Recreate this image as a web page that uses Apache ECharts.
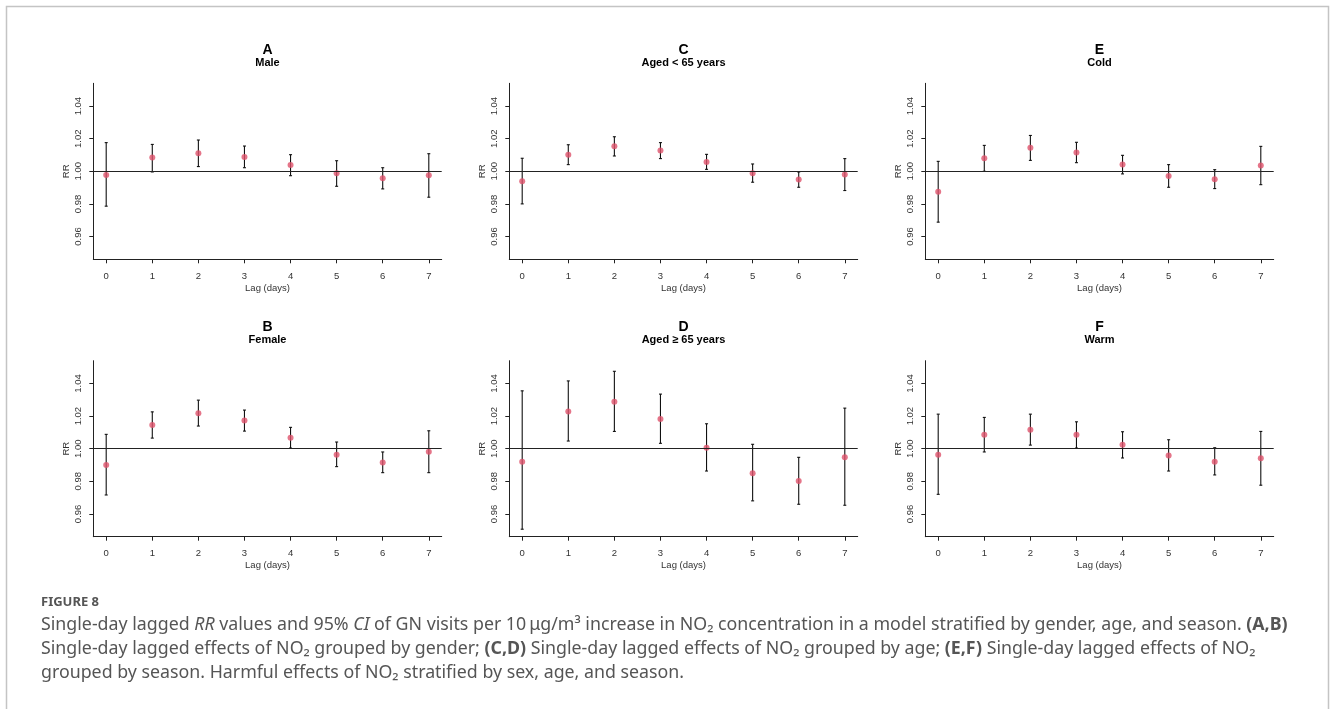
<!DOCTYPE html>
<html>
<head>
<meta charset="utf-8">
<script src="https://cdn.jsdelivr.net/npm/echarts@6/dist/echarts.min.js"></script>
<style>
  html, body { margin: 0; padding: 0; background: #fff; }
  #main { width: 1330px; height: 709px; }
</style>
</head>
<body>
<div id="main"></div>
<script>
// lag 刻度和 y 轴刻度
var lags = [0, 1, 2, 3, 4, 5, 6, 7];
var yTicks = [0.96, 0.98, 1.00, 1.02, 1.04];

// A Male
var maleRR   = [0.9978, 1.0084, 1.0110, 1.0088, 1.0039, 0.9988, 0.9957, 0.9976];
var maleLow  = [0.9786, 0.9996, 1.0029, 1.0022, 0.9973, 0.9908, 0.9892, 0.9841];
var maleHigh = [1.0176, 1.0165, 1.0192, 1.0155, 1.0102, 1.0065, 1.0022, 1.0108];
// B Female
var femaleRR   = [0.9900, 1.0145, 1.0218, 1.0173, 1.0067, 0.9963, 0.9916, 0.9982];
var femaleLow  = [0.9716, 1.0065, 1.0139, 1.0108, 1.0004, 0.9890, 0.9853, 0.9853];
var femaleHigh = [1.0088, 1.0226, 1.0298, 1.0237, 1.0131, 1.0041, 0.9980, 1.0110];
// C Aged < 65
var youngRR   = [0.9939, 1.0102, 1.0153, 1.0127, 1.0057, 0.9988, 0.9949, 0.9980];
var youngLow  = [0.9800, 1.0041, 1.0094, 1.0078, 1.0012, 0.9933, 0.9902, 0.9882];
var youngHigh = [1.0080, 1.0163, 1.0212, 1.0176, 1.0104, 1.0045, 0.9996, 1.0078];
// D Aged >= 65
var oldRR   = [0.9920, 1.0228, 1.0288, 1.0182, 1.0006, 0.9849, 0.9802, 0.9947];
var oldLow  = [0.9506, 1.0047, 1.0106, 1.0033, 0.9863, 0.9680, 0.9659, 0.9653];
var oldHigh = [1.0355, 1.0416, 1.0475, 1.0335, 1.0153, 1.0027, 0.9947, 1.0249];
// E Cold
var coldRR   = [0.9874, 1.0080, 1.0145, 1.0116, 1.0041, 0.9971, 0.9951, 1.0035];
var coldLow  = [0.9688, 1.0000, 1.0067, 1.0053, 0.9984, 0.9902, 0.9894, 0.9918];
var coldHigh = [1.0061, 1.0159, 1.0220, 1.0178, 1.0098, 1.0041, 1.0010, 1.0153];
// F Warm
var warmRR   = [0.9963, 1.0086, 1.0116, 1.0086, 1.0024, 0.9959, 0.9920, 0.9941];
var warmLow  = [0.9720, 0.9980, 1.0022, 1.0004, 0.9943, 0.9863, 0.9839, 0.9776];
var warmHigh = [1.0212, 1.0192, 1.0212, 1.0165, 1.0104, 1.0055, 1.0006, 1.0106];

var panels = [
  { tag: 'A', sub: 'Male',            rr: maleRR,   lo: maleLow,   hi: maleHigh,   col: 0, row: 0 },
  { tag: 'B', sub: 'Female',          rr: femaleRR, lo: femaleLow, hi: femaleHigh, col: 0, row: 1 },
  { tag: 'C', sub: 'Aged < 65 years', rr: youngRR,  lo: youngLow,  hi: youngHigh,  col: 1, row: 0 },
  { tag: 'D', sub: 'Aged \u2265 65 years', rr: oldRR, lo: oldLow,  hi: oldHigh,    col: 1, row: 1 },
  { tag: 'E', sub: 'Cold',            rr: coldRR,   lo: coldLow,   hi: coldHigh,   col: 2, row: 0 },
  { tag: 'F', sub: 'Warm',            rr: warmRR,   lo: warmLow,   hi: warmHigh,   col: 2, row: 1 }
];

var colLeft = [93.3, 509.3, 925.3];
var rowTop = [83.3, 360.7];
var plotW = 348.4, plotH = 176;
var font = "'Liberation Sans', Arial, Helvetica, sans-serif";
var dotColor = '#DF536B';

var grid = [], xAxis = [], yAxis = [], series = [], title = [];

panels.forEach(function (p, i) {
  var left = colLeft[p.col], top = rowTop[p.row];
  grid.push({ left: left, top: top, width: plotW, height: plotH });

  xAxis.push({
    type: 'value', gridIndex: i, min: -0.28, max: 7.28,
    name: 'Lag (days)', nameLocation: 'middle', nameGap: 24,
    nameTextStyle: { fontFamily: font, fontSize: 9.5, color: '#333' },
    axisLine: { onZero: false, lineStyle: { color: '#222', width: 1 } },
    axisTick: { show: true, length: 4, customValues: lags, lineStyle: { color: '#222' } },
    axisLabel: { customValues: lags, margin: 12, fontFamily: font, fontSize: 9.5, color: '#333' },
    splitLine: { show: false }
  });

  yAxis.push({
    type: 'value', gridIndex: i, min: 0.946, max: 1.054,
    name: 'RR', nameLocation: 'middle', nameGap: 22,
    nameTextStyle: { fontFamily: font, fontSize: 9.5, color: '#333' },
    axisLine: { show: true, onZero: false, lineStyle: { color: '#222', width: 1 } },
    axisTick: { show: true, length: 4, customValues: yTicks, lineStyle: { color: '#222' } },
    axisLabel: {
      customValues: yTicks, rotate: 90, margin: 10, fontFamily: font, fontSize: 9.5, color: '#333',
      formatter: function (v) { return v.toFixed(2); }
    },
    splitLine: { show: false }
  });

  // 误差线
  var bars = lags.map(function (l, k) { return [l, p.lo[k], p.hi[k]]; });
  series.push({
    type: 'custom', xAxisIndex: i, yAxisIndex: i, data: bars, silent: true, z: 2,
    renderItem: function (params, api) {
      var a = api.coord([api.value(0), api.value(1)]);
      var b = api.coord([api.value(0), api.value(2)]);
      var st = { stroke: '#111', lineWidth: 1.1 };
      return {
        type: 'group',
        children: [
          { type: 'line', shape: { x1: a[0], y1: a[1], x2: b[0], y2: b[1] }, style: st },
          { type: 'line', shape: { x1: a[0] - 1.5, y1: a[1], x2: a[0] + 1.5, y2: a[1] }, style: st },
          { type: 'line', shape: { x1: b[0] - 1.5, y1: b[1], x2: b[0] + 1.5, y2: b[1] }, style: st }
        ]
      };
    }
  });

  series.push({
    type: 'scatter', xAxisIndex: i, yAxisIndex: i, z: 3,
    data: lags.map(function (l, k) { return [l, p.rr[k]]; }),
    symbol: 'circle', symbolSize: 6,
    itemStyle: { color: dotColor },
    markLine: {
      silent: true, symbol: 'none', label: { show: false },
      lineStyle: { color: '#222', width: 1.1, type: 'solid' },
      data: [{ yAxis: 1 }]
    }
  });

  title.push({
    text: p.tag, subtext: p.sub,
    left: left + plotW / 2, textAlign: 'center',
    top: p.row === 0 ? 43 : 320.5, padding: 0, itemGap: 0,
    textStyle: { fontFamily: font, fontSize: 14, fontWeight: 'bold', color: '#000' },
    subtextStyle: { fontFamily: font, fontSize: 11, fontWeight: 'bold', color: '#000' }
  });
});

var capFont = "'Noto Sans', 'Open Sans', sans-serif";
var capColor = '#555';
var capSize = 17.8;
var capRich = {
  i: { fontFamily: capFont, fontSize: capSize, fontStyle: 'italic', color: capColor },
  b: { fontFamily: capFont, fontSize: capSize, fontWeight: 'bold', color: capColor }
};
var capLines = [
  'Single-day lagged {i|RR} values and 95% {i|CI} of GN visits per 10\u2009\u03bcg/m\u00b3 increase in NO\u2082 concentration in a model stratified by gender, age, and season. {b|(A,B)}',
  'Single-day lagged effects of NO\u2082 grouped by gender; {b|(C,D)} Single-day lagged effects of NO\u2082 grouped by age; {b|(E,F)} Single-day lagged effects of NO\u2082',
  'grouped by season. Harmful effects of NO\u2082 stratified by sex, age, and season.'
];
var capY = [624.5, 649, 673];

var graphic = [
  { type: 'rect', shape: { x: 6.5, y: 6.5, width: 1322, height: 730 },
    style: { fill: 'none', stroke: '#c4c4c4', lineWidth: 1.5 }, silent: true },
  { type: 'text', x: 41, y: 602,
    style: { text: 'FIGURE 8', font: 'bold 13px ' + capFont, fill: '#555', textVerticalAlign: 'middle' } }
];
capLines.forEach(function (t, k) {
  graphic.push({
    type: 'text', x: 41, y: capY[k],
    style: { text: t, rich: capRich, font: capSize + 'px ' + capFont, fill: capColor, textVerticalAlign: 'middle' }
  });
});

var myChart = echarts.init(document.getElementById('main'), null, { renderer: 'canvas' });
myChart.setOption({
  animation: false,
  backgroundColor: '#fff',
  title: title,
  grid: grid,
  xAxis: xAxis,
  yAxis: yAxis,
  series: series,
  graphic: graphic
});
</script>
</body>
</html>
